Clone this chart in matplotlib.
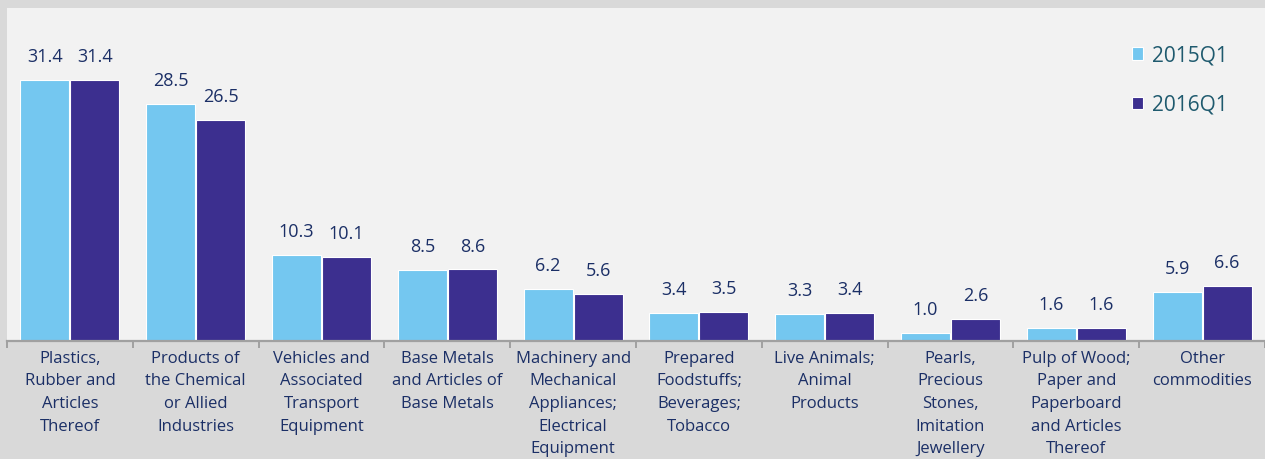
import matplotlib.pyplot as plt
import numpy as np

categories = [
    "Plastics,\nRubber and\nArticles\nThereof",
    "Products of\nthe Chemical\nor Allied\nIndustries",
    "Vehicles and\nAssociated\nTransport\nEquipment",
    "Base Metals\nand Articles of\nBase Metals",
    "Machinery and\nMechanical\nAppliances;\nElectrical\nEquipment",
    "Prepared\nFoodstuffs;\nBeverages;\nTobacco",
    "Live Animals;\nAnimal\nProducts",
    "Pearls,\nPrecious\nStones,\nImitation\nJewellery",
    "Pulp of Wood;\nPaper and\nPaperboard\nand Articles\nThereof",
    "Other\ncommodities",
]
q2015 = [31.4, 28.5, 10.3, 8.5, 6.2, 3.4, 3.3, 1.0, 1.6, 5.9]
q2016 = [31.4, 26.5, 10.1, 8.6, 5.6, 3.5, 3.4, 2.6, 1.6, 6.6]
series_names = ["2015Q1", "2016Q1"]

LIGHT = "#74c7f0"
DARK = "#3c2f8f"
TEXT = "#1b2f66"

plt.rcParams["font.family"] = ["Open Sans", "DejaVu Sans"]

W, H = 1265, 459
fig = plt.figure(figsize=(W / 100, H / 100), dpi=100, facecolor="#d9d9d9")
ax = fig.add_axes([7 / W, (H - 341) / H, (W - 7) / W, (341 - 8) / H])
ax.set_facecolor("#f2f2f2")

x = np.arange(len(categories))
bw = 0.39
b1 = ax.bar(x - bw / 2 - 0.004, q2015, bw, color=LIGHT, edgecolor="white", linewidth=0.8, label=series_names[0])
b2 = ax.bar(x + bw / 2 + 0.004, q2016, bw, color=DARK, edgecolor="white", linewidth=0.8, label=series_names[1])

for bars in (b1, b2):
    for rect in bars:
        ax.annotate(f"{rect.get_height():.1f}",
                    (rect.get_x() + rect.get_width() / 2, rect.get_height()),
                    xytext=(0, 10), textcoords="offset points",
                    ha="center", va="bottom", fontsize=13, color=TEXT)

ax.set_xlim(-0.5, len(categories) - 0.5)
ax.set_ylim(0, 40)
ax.set_yticks([])
for s in ["top", "right", "left"]:
    ax.spines[s].set_visible(False)
ax.spines["bottom"].set_color("#a0a0a0")
ax.spines["bottom"].set_linewidth(1.6)

ax.set_xticks(np.arange(len(categories) + 1) - 0.5, minor=False)
ax.set_xticklabels([])
ax.tick_params(axis="x", which="major", length=5, width=1.4, color="#a0a0a0", direction="out")
ax.set_xticks(x, minor=True)
ax.set_xticklabels(categories, minor=True, fontsize=12, color=TEXT, linespacing=1.55)
ax.tick_params(axis="x", which="minor", length=0, pad=7)

leg = ax.legend(loc="upper right", bbox_to_anchor=(0.985, 0.945), frameon=False,
                fontsize=15, handlelength=0.55, handleheight=0.55, handletextpad=0.4,
                labelspacing=1.35, labelcolor="#1f5a6e")

fig.savefig("out.png", dpi=100, facecolor=fig.get_facecolor())
